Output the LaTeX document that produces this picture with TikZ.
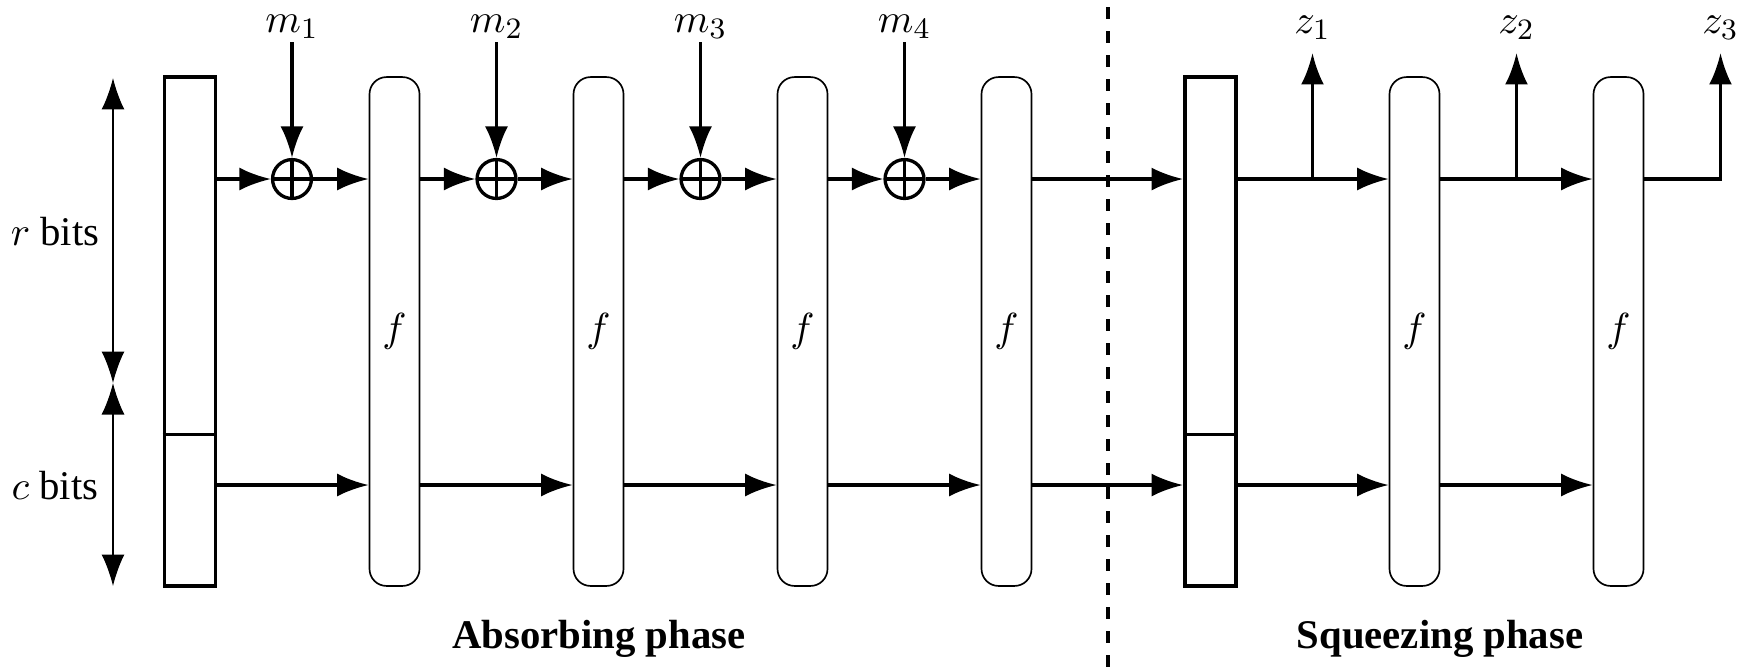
\documentclass[tikz,border=0pt]{standalone}
\usepackage{fontspec}
\setmainfont{Liberation Serif}
\usetikzlibrary{arrows.meta}
\begin{document}
\begin{tikzpicture}[x=0.27pt,y=-0.27pt,
  font=\fontsize{11}{13}\selectfont,
  tipa/.tip={Latex[length=8.5pt,width=6.2pt]},
  arr/.style={line width=0.9pt,-tipa},
  dimarr/.style={line width=0.45pt,tipa-tipa},
  statebox/.style={draw,line width=1pt,minimum width=13.8pt,minimum height=137.4pt,inner sep=0pt},
  fbox/.style={draw,line width=0.45pt,rounded corners=4.6pt,minimum width=13.5pt,minimum height=137.4pt,inner sep=0pt},
  xorc/.style={draw,circle,line width=0.9pt,minimum size=10.5pt,inner sep=0pt,
    path picture={\draw[line width=0.9pt] (path picture bounding box.north)--(path picture bounding box.south)
      (path picture bounding box.west)--(path picture bounding box.east);}},
  lbl/.style={anchor=base,inner sep=0pt},
  phase/.style={font=\fontsize{11}{13}\selectfont\bfseries,anchor=base,inner sep=0pt}
]
\useasboundingbox (0,0) rectangle (1751,671);

% reference rows
\coordinate (top) at (0,179);
\coordinate (bot) at (0,485);
\coordinate (split) at (0,434.5);

% state boxes
\node[statebox] (s1) at (190,331.5) {};
\node[statebox] (s2) at (1210.5,331.5) {};
\draw[line width=1pt] (s1.west |- split) -- (s1.east |- split);
\draw[line width=1pt] (s2.west |- split) -- (s2.east |- split);

% permutation boxes
\node[fbox] (f1) at (394.5,331.5) {$f$};
\node[fbox] (f2) at (598.5,331.5) {$f$};
\node[fbox] (f3) at (802.5,331.5) {$f$};
\node[fbox] (f4) at (1006.5,331.5) {$f$};
\node[fbox] (f5) at (1414.5,331.5) {$f$};
\node[fbox] (f6) at (1618.5,331.5) {$f$};

% xor nodes
\node[xorc] (x1) at (292,179) {};
\node[xorc] (x2) at (496.5,179) {};
\node[xorc] (x3) at (700.5,179) {};
\node[xorc] (x4) at (904.5,179) {};

% message labels and inputs
\node[lbl] (m1) at (292,32) {$m_1$};
\node[lbl] (m2) at (496.5,32) {$m_2$};
\node[lbl] (m3) at (700.5,32) {$m_3$};
\node[lbl] (m4) at (904.5,32) {$m_4$};
\coordinate (ms1) at (292,42);
\coordinate (ms2) at (496.5,42);
\coordinate (ms3) at (700.5,42);
\coordinate (ms4) at (904.5,42);
\draw[arr] (ms1) -- (x1.north);
\draw[arr] (ms2) -- (x2.north);
\draw[arr] (ms3) -- (x3.north);
\draw[arr] (ms4) -- (x4.north);

% top row (rate)
\draw[arr] (s1.east |- top) -- (x1.west);
\draw[arr] (x1.east) -- (f1.west |- top);
\draw[arr] (f1.east |- top) -- (x2.west);
\draw[arr] (x2.east) -- (f2.west |- top);
\draw[arr] (f2.east |- top) -- (x3.west);
\draw[arr] (x3.east) -- (f3.west |- top);
\draw[arr] (f3.east |- top) -- (x4.west);
\draw[arr] (x4.east) -- (f4.west |- top);
\draw[arr] (f4.east |- top) -- (s2.west |- top);
\draw[arr] (s2.east |- top) -- (f5.west |- top);
\draw[arr] (f5.east |- top) -- (f6.west |- top);

% bottom row (capacity)
\draw[arr] (s1.east |- bot) -- (f1.west |- bot);
\draw[arr] (f1.east |- bot) -- (f2.west |- bot);
\draw[arr] (f2.east |- bot) -- (f3.west |- bot);
\draw[arr] (f3.east |- bot) -- (f4.west |- bot);
\draw[arr] (f4.east |- bot) -- (s2.west |- bot);
\draw[arr] (s2.east |- bot) -- (f5.west |- bot);
\draw[arr] (f5.east |- bot) -- (f6.west |- bot);

% outputs
\coordinate (zb1) at (1312.5,179);
\coordinate (zb2) at (1516.5,179);
\coordinate (zt1) at (1312.5,53);
\coordinate (zt2) at (1516.5,53);
\coordinate (zt3) at (1720.5,53);
\draw[arr] (zb1) -- (zt1);
\draw[arr] (zb2) -- (zt2);
\draw[arr] (f6.east |- top) -| (zt3);
\node[lbl] (z1) at (1312.5,33) {$z_1$};
\node[lbl] (z2) at (1516.5,33) {$z_2$};
\node[lbl] (z3) at (1720.5,33) {$z_3$};

% dimension arrows
\coordinate (dA) at (113,78);
\coordinate (dM) at (113,383);
\coordinate (dB) at (113,586);
\draw[dimarr] (dA) -- (dM);
\draw[dimarr] (dM) -- (dB);
\node[lbl] (rb) at (55,245) {$r$ bits};
\node[lbl] (cb) at (55,499) {$c$ bits};

% phase separator
\coordinate (dtop) at (1108,0);
\coordinate (dbot) at (1108,671);
\draw[line width=0.9pt,dash pattern=on 3.24pt off 3.24pt,dash phase=4.5pt] (dtop) -- (dbot);

% phase labels
\node[phase] (ab) at (599,648) {Absorbing phase};
\node[phase] (sq) at (1440,648) {Squeezing phase};
\end{tikzpicture}
\end{document}
